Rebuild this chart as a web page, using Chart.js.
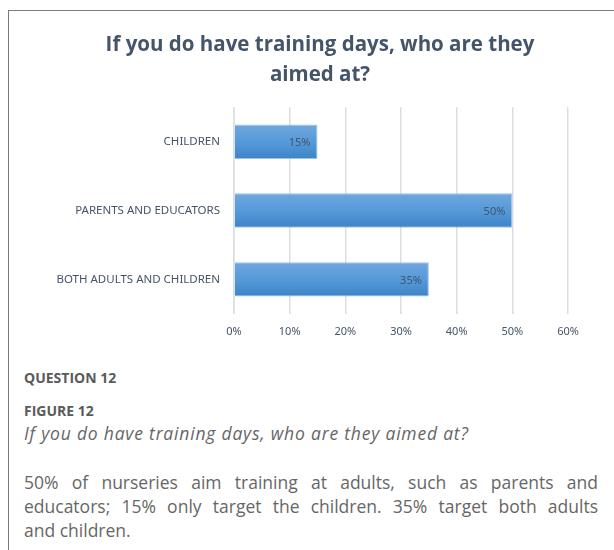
<!DOCTYPE html>
<html lang="en">
<head>
    <meta charset="UTF-8">
    <title>Training days</title>
    <script src="https://cdn.jsdelivr.net/npm/chart.js"></script>
    <style>
        body {
            margin: 0;
            background: #fff;
            width: 614px;
            height: 550px;
            overflow: hidden;
            position: relative;
        }
        .frame {
            position: absolute;
            left: 8px;
            top: 10px;
            width: 620px;
            height: 560px;
            border-left: 1px solid #7a7a7a;
            border-top: 1px solid #7a7a7a;
        }
        .chart-box {
            position: absolute;
            left: 10px;
            top: 12px;
            width: 620px;
            height: 337px;
        }
        .caption {
            position: absolute;
            left: 24px;
            width: 574px;
            font-family: "Open Sans", Lato, sans-serif;
            color: #5a5a5a;
        }
        #q { top: 368px; font-size: 14px; font-weight: bold; }
        #fig { top: 401px; font-size: 14px; font-weight: bold; }
        #figTitle { top: 421px; font-size: 17.5px; font-style: italic; color: #666; letter-spacing: 0.8px; }
        #desc {
            top: 470px;
            font-size: 17.5px;
            line-height: 24px;
            color: #666;
        }
        #desc div { text-align: justify; text-align-last: justify; }
        #desc div:last-child { text-align-last: left; }
    </style>
</head>
<body>
    <div class="frame"></div>
    <div class="chart-box"><canvas id="chart" width="620" height="337"></canvas></div>
    <div class="caption" id="q">QUESTION 12</div>
    <div class="caption" id="fig">FIGURE 12</div>
    <div class="caption" id="figTitle">If you do have training days, who are they aimed at?</div>
    <div class="caption" id="desc">
        <div>50% of nurseries aim training at adults, such as parents and</div>
        <div>educators; 15% only target the children. 35% target both adults</div>
        <div>and children.</div>
    </div>

    <script>
        const categories = ['CHILDREN', 'PARENTS AND EDUCATORS', 'BOTH ADULTS AND CHILDREN'];
        const shares = [15, 50, 35];
        const tickValues = [0, 10, 20, 30, 40, 50, 60];

        const textColor = '#44546a';

        // each bar gets its own vertical gradient (lighter on top)
        function barFill(context) {
            const chart = context.chart;
            const yScale = chart.scales.y;
            if (!chart.chartArea || !yScale) return '#5b9bd5';
            const center = yScale.getPixelForValue(context.dataIndex);
            const half = yScale.height / categories.length / 4;
            const g = chart.ctx.createLinearGradient(0, center - half, 0, center + half);
            g.addColorStop(0, '#71a7dd');
            g.addColorStop(0.5, '#559ad9');
            g.addColorStop(1, '#3e83c6');
            return g;
        }

        // value labels inside the end of each bar
        const valueLabels = {
            id: 'valueLabels',
            afterDatasetsDraw(chart) {
                const ctx = chart.ctx;
                ctx.save();
                ctx.font = '11px "Noto Sans", sans-serif';
                ctx.fillStyle = textColor;
                ctx.textAlign = 'right';
                ctx.textBaseline = 'middle';
                chart.getDatasetMeta(0).data.forEach((bar, i) => {
                    ctx.fillText(shares[i] + '%', bar.x - 7, bar.y + 1);
                });
                ctx.restore();
            }
        };

        new Chart(document.getElementById('chart'), {
            type: 'bar',
            data: {
                labels: categories,
                datasets: [{
                    data: shares,
                    backgroundColor: barFill,
                    borderColor: '#9cc3e8',
                    borderWidth: 1,
                    categoryPercentage: 1,
                    barPercentage: 0.5
                }]
            },
            plugins: [valueLabels],
            options: {
                indexAxis: 'y',
                responsive: false,
                animation: false,
                layout: { padding: 0 },
                plugins: {
                    legend: { display: false },
                    tooltip: { enabled: false },
                    title: {
                        display: true,
                        text: ['If you do have training days, who are they', 'aimed at?'],
                        color: textColor,
                        font: { family: '"Open Sans", sans-serif', size: 20.5, weight: 'bold', lineHeight: 1.47 },
                        padding: { top: 18, bottom: 17 }
                    }
                },
                scales: {
                    x: {
                        min: 0,
                        max: 60,
                        afterBuildTicks: axis => {
                            axis.ticks = tickValues.map(v => ({ value: v }));
                        },
                        grid: { color: '#d9dee5', lineWidth: 1.5, drawTicks: false },
                        border: { display: false },
                        ticks: {
                            color: textColor,
                            padding: 11,
                            font: { family: '"Noto Sans", sans-serif', size: 11 },
                            callback: v => v + '%'
                        }
                    },
                    y: {
                        grid: { display: false },
                        border: { color: '#d9dee5', width: 1.5 },
                        afterFit: axis => { axis.width = 224; },
                        ticks: {
                            color: textColor,
                            padding: 6,
                            font: { family: '"Noto Sans", sans-serif', size: 11.5 }
                        }
                    },
                    // empty right-hand axis: keeps space right of the plot
                    yRight: {
                        type: 'category',
                        position: 'right',
                        grid: { display: false },
                        border: { display: false },
                        ticks: { display: false },
                        afterFit: axis => { axis.width = 62; }
                    }
                }
            }
        });
    </script>
</body>
</html>
